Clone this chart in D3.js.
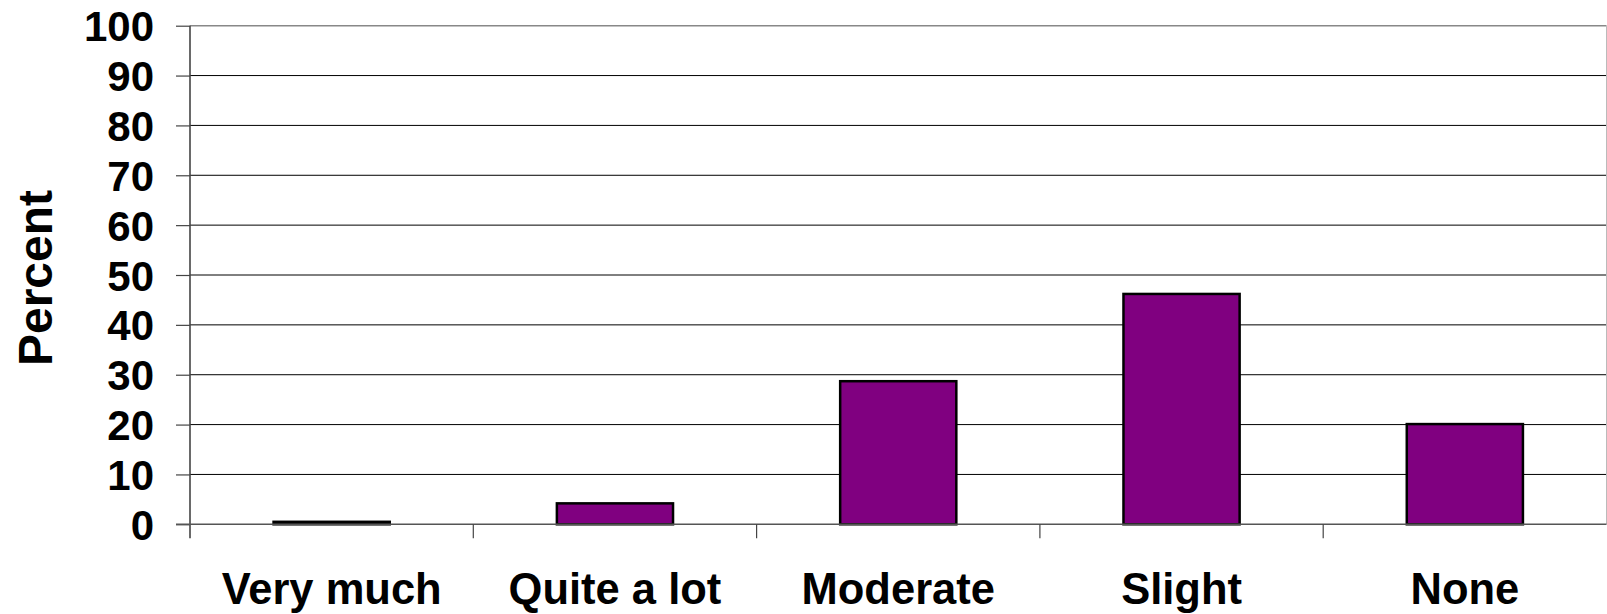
<!DOCTYPE html>
<html>
<head>
<meta charset="utf-8">
<script src="https://cdn.jsdelivr.net/npm/d3@7"></script>
<style>
  html, body { margin: 0; padding: 0; background: #fff; }
  svg { display: block; }
  text { font-family: "Liberation Sans", Arial, sans-serif; font-weight: bold; fill: #000; }
</style>
</head>
<body>
<svg id="chart" width="1607" height="614"></svg>
<script>
const categories = ["Very much", "Quite a lot", "Moderate", "Slight", "None"];
const values = [0.5, 4.2, 28.7, 46.2, 20.1];
const yTicks = [0, 10, 20, 30, 40, 50, 60, 70, 80, 90, 100];
const yTitle = "Percent";

(function () {
const svg = d3.select("#chart");
const mLeft = 190, mRight = 1606.5, mTop = 25.7, mBottom = 524.3;

const x = d3.scaleBand().domain(categories).range([mLeft, mRight])
  .paddingInner(0.59).paddingOuter(0.295);
const y = d3.scaleLinear().domain([0, 100]).range([mBottom, mTop]);

// gridlines
svg.append("g").selectAll("line").data(yTicks.filter(d => d > 0)).join("line")
  .attr("x1", mLeft).attr("x2", mRight)
  .attr("y1", d => y(d)).attr("y2", d => y(d))
  .attr("stroke", d => d === 100 ? "#888" : "#000").attr("stroke-width", d => d === 100 ? 1.6 : 1);

// right border
svg.append("line").attr("x1", mRight).attr("x2", mRight).attr("y1", y(100)).attr("y2", y(0))
  .attr("stroke", "#bbb").attr("stroke-width", 1);

// y axis
const yAxis = d3.axisLeft(y).tickValues(yTicks).tickSize(14).tickPadding(22).tickFormat(d3.format("d"));
const gy = svg.append("g").attr("transform", `translate(${mLeft},0)`).call(yAxis);
gy.select(".domain").remove();
gy.selectAll(".tick line").attr("stroke", "#444").attr("stroke-width", 1.2);
gy.selectAll(".tick text").attr("font-size", 42).attr("font-family", "Liberation Sans, Arial, sans-serif")
  .attr("font-weight", "bold").attr("fill", "#000").attr("dy", "0.36em");

// y axis line
svg.append("line").attr("x1", mLeft).attr("x2", mLeft).attr("y1", y(100)).attr("y2", y(0) + 14)
  .attr("stroke", "#444").attr("stroke-width", 1.6);

// bars
svg.append("g").selectAll("rect").data(values).join("rect")
  .attr("x", (d, i) => x(categories[i]))
  .attr("width", x.bandwidth())
  .attr("y", d => y(d))
  .attr("height", d => y(0) - y(d))
  .attr("fill", "#800080")
  .attr("stroke", "#000").attr("stroke-width", 2.5);

// x axis baseline
svg.append("line").attr("x1", mLeft - 14).attr("x2", mRight).attr("y1", y(0)).attr("y2", y(0))
  .attr("stroke", "#555").attr("stroke-width", 1.6);

// category boundary ticks
const step = x.step();
const boundaries = categories.slice(1).map(c => x(c) - x.paddingInner() * step / 2);
svg.append("g").selectAll("line").data(boundaries).join("line")
  .attr("x1", d => d).attr("x2", d => d)
  .attr("y1", y(0)).attr("y2", y(0) + 14)
  .attr("stroke", "#444").attr("stroke-width", 1.2);

// category labels
svg.append("g").selectAll("text").data(categories).join("text")
  .attr("x", d => x(d) + x.bandwidth() / 2)
  .attr("y", 604)
  .attr("text-anchor", "middle")
  .attr("font-size", 43.5)
  .text(d => d);

// y title
svg.append("text")
  .attr("transform", `translate(51.5,${(y(100)+y(0))/2 + 3}) rotate(-90)`)
  .attr("text-anchor", "middle")
  .attr("font-size", 48)
  .text(yTitle);
})();
</script>
</body>
</html>
